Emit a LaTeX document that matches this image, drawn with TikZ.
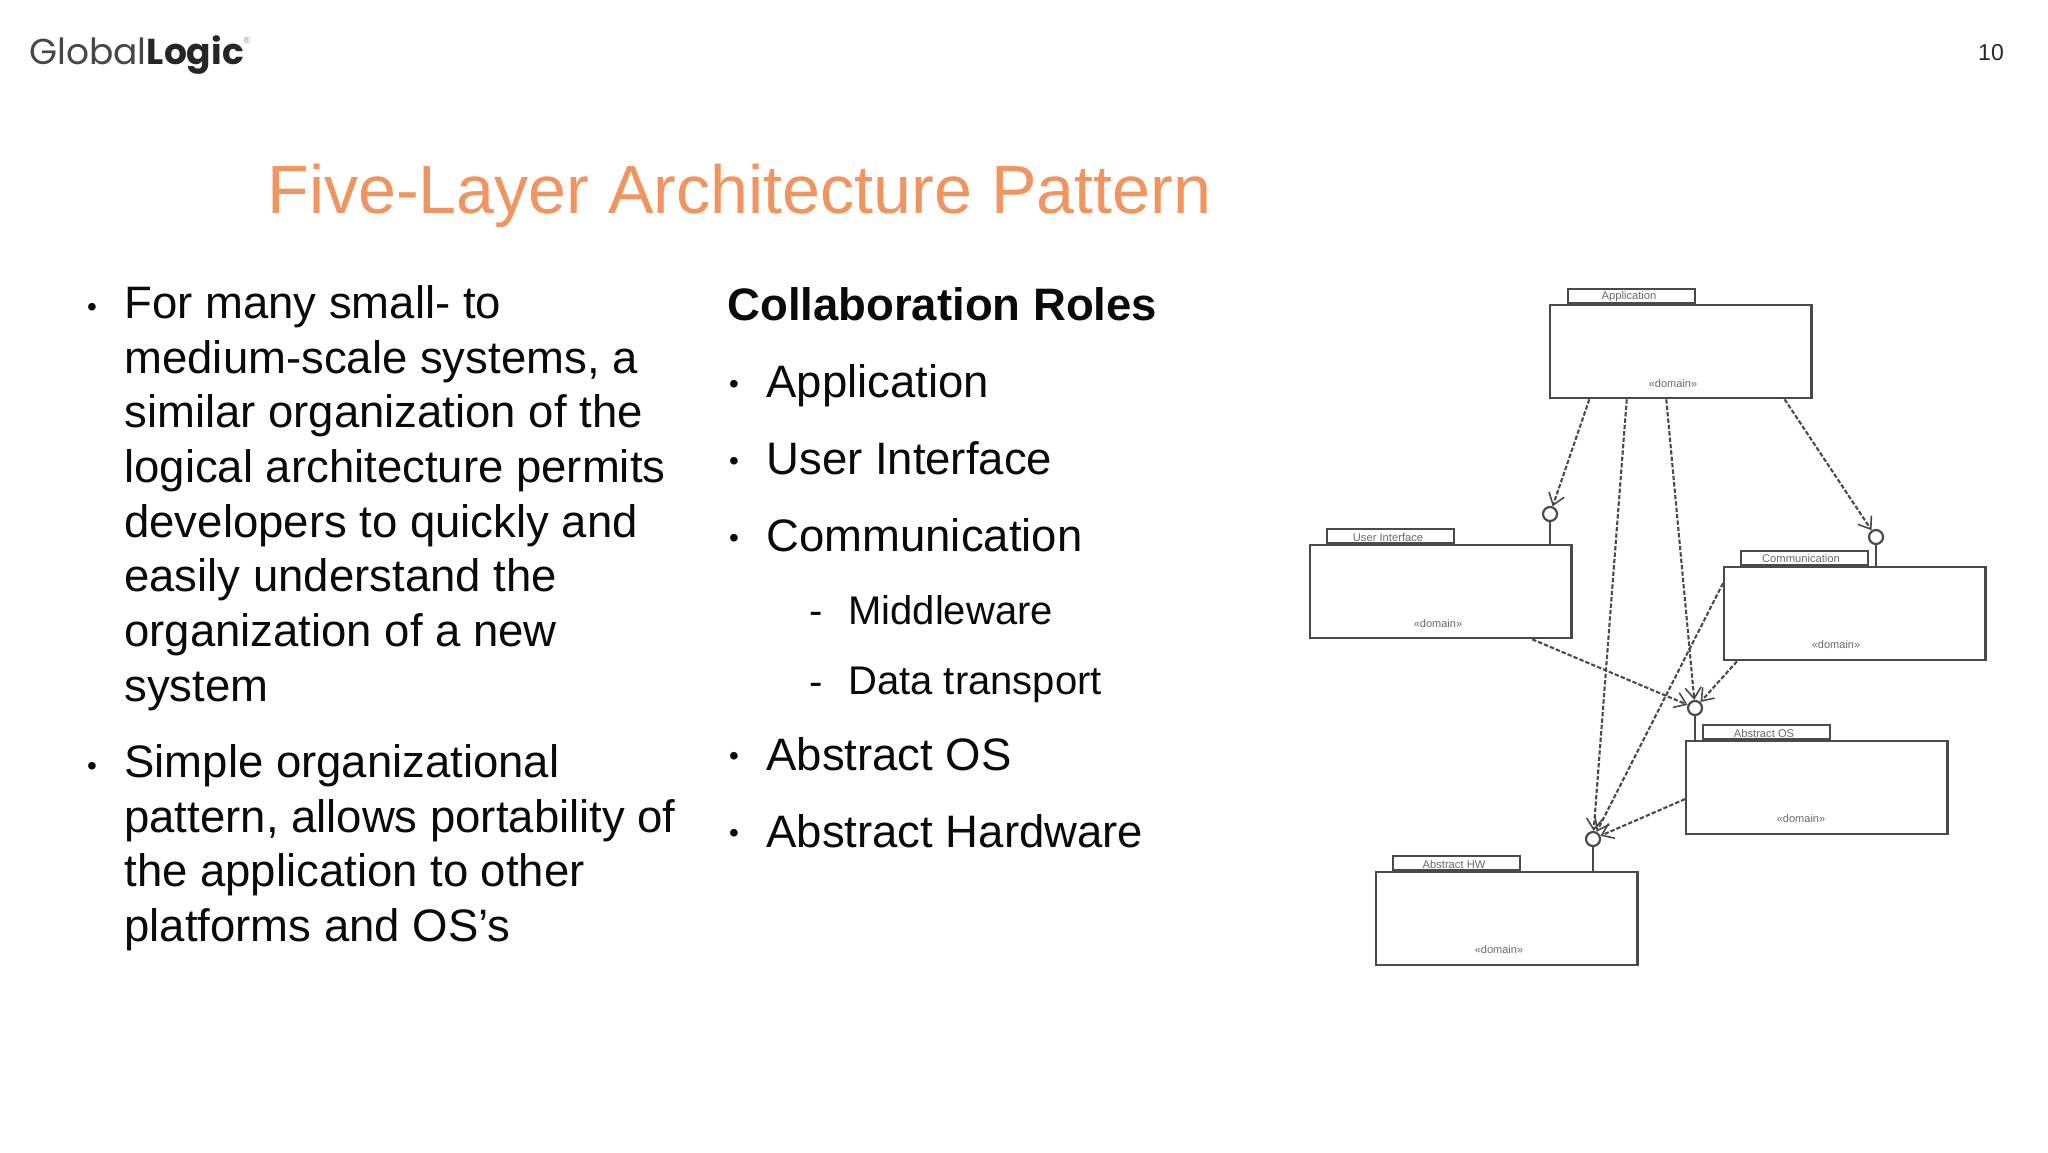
\documentclass[tikz,border=0pt]{standalone}
\usepackage{fontspec}
\setmainfont{Liberation Sans}
\newfontfamily\logofont{Poppins}
\usetikzlibrary{arrows.meta,calc}
\definecolor{titlecol}{HTML}{F0955F}
\definecolor{umlline}{HTML}{4A4A4A}
\definecolor{umltext}{HTML}{6A6A6A}
\definecolor{inkcol}{HTML}{0A0A0A}
\tikzset{
  x=0.5pt,y=-0.5pt,
  body/.style={inner sep=0pt,anchor=north west,align=left,text=inkcol,font=\fontsize{22.75}{27.35}\selectfont},
  item/.style={inner sep=0pt,anchor=base west,text=inkcol,font=\fontsize{22.75}{26}\selectfont},
  subitem/.style={inner sep=0pt,anchor=base west,text=inkcol,font=\fontsize{20}{24}\selectfont},
  bul/.style={inner sep=0pt,anchor=base,text=inkcol,font=\fontsize{14}{20}\selectfont},
  pkg/.style={draw=umlline,line width=1.15pt,fill=white,inner sep=0pt,anchor=north west,minimum width=130.6pt,minimum height=46.5pt},
  tabbox/.style={draw=umlline,line width=1.1pt,fill=white,inner sep=0pt,anchor=south west,minimum width=63.5pt,minimum height=7pt},
  tablabel/.style={inner sep=0pt,text=umltext,font=\fontsize{5.6}{7}\selectfont},
  domlabel/.style={inner sep=0pt,text=umltext,font=\fontsize{5.5}{7}\selectfont},
  lolli/.style={circle,draw=umlline,line width=1.1pt,fill=white,inner sep=0pt,minimum size=7pt},
  stem/.style={draw=umlline,line width=1.1pt},
  dep/.style={draw=umlline,line width=1.05pt,dash pattern=on 2.2pt off 1pt,-{Straight Barb[length=5.5pt,width=8pt,line width=0.8pt]}},
}
\begin{document}
\begin{tikzpicture}
\useasboundingbox (0,0) rectangle (2048,1152);
% logo
\node[inner sep=0pt,anchor=base west] (logo) at (29,64) {\logofont\fontsize{18}{20}\selectfont\color{black!72}Global\textbf{\color{black!85}Logic}};
\node[inner sep=0pt,text=black!45,font=\fontsize{4.5}{5}\selectfont] (regmark) at (247,40) {®};
\node[inner sep=0pt,anchor=base,text=black!85,font=\fontsize{11.5}{14}\selectfont] (pageno) at (1991,60) {10};
\node[inner sep=0pt,anchor=base west,text=titlecol,font=\fontsize{34.1}{40}\selectfont] (title) at (267,213) {Five-Layer Architecture Pattern};
% left column
\node[bul] (b1) at (92,316) {•};
\node[body] (p1) at (124,285) {For many small- to\\medium-scale systems, a\\similar organization of the\\logical architecture permits\\developers to quickly and\\easily understand the\\organization of a new\\system};
\node[bul] (b2) at (92,775) {•};
\node[body] (p2) at (124,744) {Simple organizational\\pattern, allows portability of\\the application to other\\platforms and OS’s};
% middle column
\node[item,font=\fontsize{22.75}{26}\selectfont\bfseries] (roles) at (727,320) {Collaboration Roles};
\node[bul] (b3) at (734,393) {•};
\node[item] (r1) at (766,397) {Application};
\node[bul] (b4) at (734,470) {•};
\node[item] (r2) at (766,474) {User Interface};
\node[bul] (b5) at (734,547) {•};
\node[item] (r3) at (766,551) {Communication};
\node[subitem] (d1) at (809,624) {-};
\node[subitem] (r4) at (848,624) {Middleware};
\node[subitem] (d2) at (809,695) {-};
\node[subitem] (r5) at (848,694) {Data transport};
\node[bul] (b6) at (734,765) {•};
\node[item] (r6) at (766,770) {Abstract OS};
\node[bul] (b7) at (734,842) {•};
\node[item] (r7) at (766,847) {Abstract Hardware};
% packages
\node[pkg] (app) at (1549,304) {};
\node[tabbox] (apptab) at (1567,304) {};
\node[tablabel] at (1629,297) {Application};
\node[domlabel] at (1673,384) {«domain»};
\node[pkg] (ui) at (1309,544) {};
\node[tabbox] (uitab) at (1326,544) {};
\node[tablabel] at (1388,537) {User Interface};
\node[domlabel] at (1438,624) {«domain»};
\node[pkg] (comm) at (1723,566) {};
\node[tabbox] (commtab) at (1740,566) {};
\node[tablabel] at (1801,558) {Communication};
\node[domlabel] at (1836,645) {«domain»};
\node[pkg] (os) at (1685,740) {};
\node[tabbox] (ostab) at (1702,740) {};
\node[tablabel] at (1764,733) {Abstract OS};
\node[domlabel] at (1801,819) {«domain»};
\node[pkg] (hw) at (1375,871) {};
\node[tabbox] (hwtab) at (1392,871) {};
\node[tablabel] at (1454,864) {Abstract HW};
\node[domlabel] at (1499,950) {«domain»};
% lollipops
\node[lolli] (uil) at (1550,514) {};
\node[lolli] (comml) at (1876,537) {};
\node[lolli] (osl) at (1695,708) {};
\node[lolli] (hwl) at (1593,839) {};
\draw[stem] (uil) -- (uil |- ui.north);
\draw[stem] (comml) -- (comml |- comm.north);
\draw[stem] (osl) -- (osl |- os.north);
\draw[stem] (hwl) -- (hwl |- hw.north);
% dependencies
\draw[dep] ($(app.south west)!0.153!(app.south east)$) -- (uil);
\draw[dep] ($(app.south west)!0.295!(app.south east)$) -- (hwl);
\draw[dep] ($(app.south west)!0.445!(app.south east)$) -- (osl);
\draw[dep] ($(app.south west)!0.894!(app.south east)$) -- (comml);
\draw[dep] ($(ui.south west)!0.847!(ui.south east)$) -- (osl);
\draw[dep] ($(comm.south west)!0.053!(comm.south east)$) -- (osl);
\draw[dep] ($(comm.north west)!0.18!(comm.south west)$) -- (hwl);
\draw[dep] ($(os.north west)!0.62!(os.south west)$) -- (hwl);
\end{tikzpicture}
\end{document}
